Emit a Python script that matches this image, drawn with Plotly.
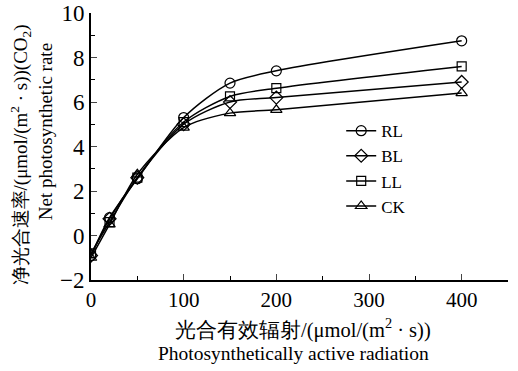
import plotly.graph_objects as go

par = [0, 20, 50, 100, 150, 200, 400]
series_names = ["RL", "BL", "LL", "CK"]
rl = [-0.9, 0.8, 2.55, 5.3, 6.85, 7.4, 8.75]
bl = [-0.9, 0.75, 2.6, 5.0, 6.0, 6.2, 6.9]
ll = [-0.8, 0.6, 2.6, 5.1, 6.25, 6.62, 7.6]
ck = [-1.0, 0.5, 2.75, 4.85, 5.5, 5.65, 6.4]
symbols = ["circle-open", "diamond-open", "square-open", "triangle-up-open"]
sizes = [10, 10, 9, 10]
x_ticks = [0, 100, 200, 300, 400]
y_ticks = [-2, 0, 2, 4, 6, 8, 10]

FONT = "Liberation Serif"

fig = go.Figure()
for name, ys, sym, sz in zip(series_names, [rl, bl, ll, ck], symbols, sizes):
    fig.add_trace(go.Scatter(
        x=par, y=ys, name=name, mode="lines+markers",
        line=dict(color="black", width=1.5, shape="spline", smoothing=0.8),
        marker=dict(symbol=sym, size=sz, color="black", line=dict(width=1.2, color="black")),
    ))

fig.update_layout(
    width=518, height=371,
    margin=dict(l=91, r=10, t=13, b=91, autoexpand=False),
    paper_bgcolor="white", plot_bgcolor="white",
    showlegend=True,
    legend=dict(x=0.6, y=0.625, xanchor="left", yanchor="top",
                bgcolor="rgba(0,0,0,0)", font=dict(size=17, family=FONT, color="black"),
                tracegroupgap=0, itemwidth=30),
    xaxis=dict(range=[0, 450], tickvals=x_ticks, ticks="inside", ticklen=6,
               showline=True, linecolor="black", linewidth=2, showgrid=False,
               zeroline=False, automargin=False, tickfont=dict(size=21, family=FONT, color="black"),
               minor=dict(dtick=50, ticks="inside", ticklen=4, tickcolor="black")),
    yaxis=dict(range=[-2, 10], tickvals=y_ticks, ticks="inside", ticklen=6,
               showline=True, linecolor="black", linewidth=2, showgrid=False,
               zeroline=False, automargin=False, tickfont=dict(size=23, family=FONT, color="black"),
               minor=dict(dtick=1, ticks="inside", ticklen=4, tickcolor="black")),
    annotations=[
        dict(text="光合有效辐射/(μmol/(m<sup>2</sup> · s))", xref="paper", yref="paper",
             x=0.508, y=-0.18, showarrow=False, font=dict(size=20.5, family=FONT, color="black"),
             xanchor="center", yanchor="middle"),
        dict(text="Photosynthetically active radiation", xref="paper", yref="paper",
             x=0.485, y=-0.277, showarrow=False, font=dict(size=19.5, family=FONT, color="black"),
             xanchor="center", yanchor="middle"),
        dict(text="净光合速率/(μmol/(m<sup>2</sup> · s))(CO<sub>2</sub>)", xref="paper", yref="paper",
             x=-0.168, y=0.47, showarrow=False, textangle=-90, font=dict(size=19, family=FONT, color="black"),
             xanchor="center", yanchor="middle"),
        dict(text="Net photosynthetic rate", xref="paper", yref="paper",
             x=-0.11, y=0.554, showarrow=False, textangle=-90, font=dict(size=19, family=FONT, color="black"),
             xanchor="center", yanchor="middle"),
    ],
)

fig.write_html("out.html")
